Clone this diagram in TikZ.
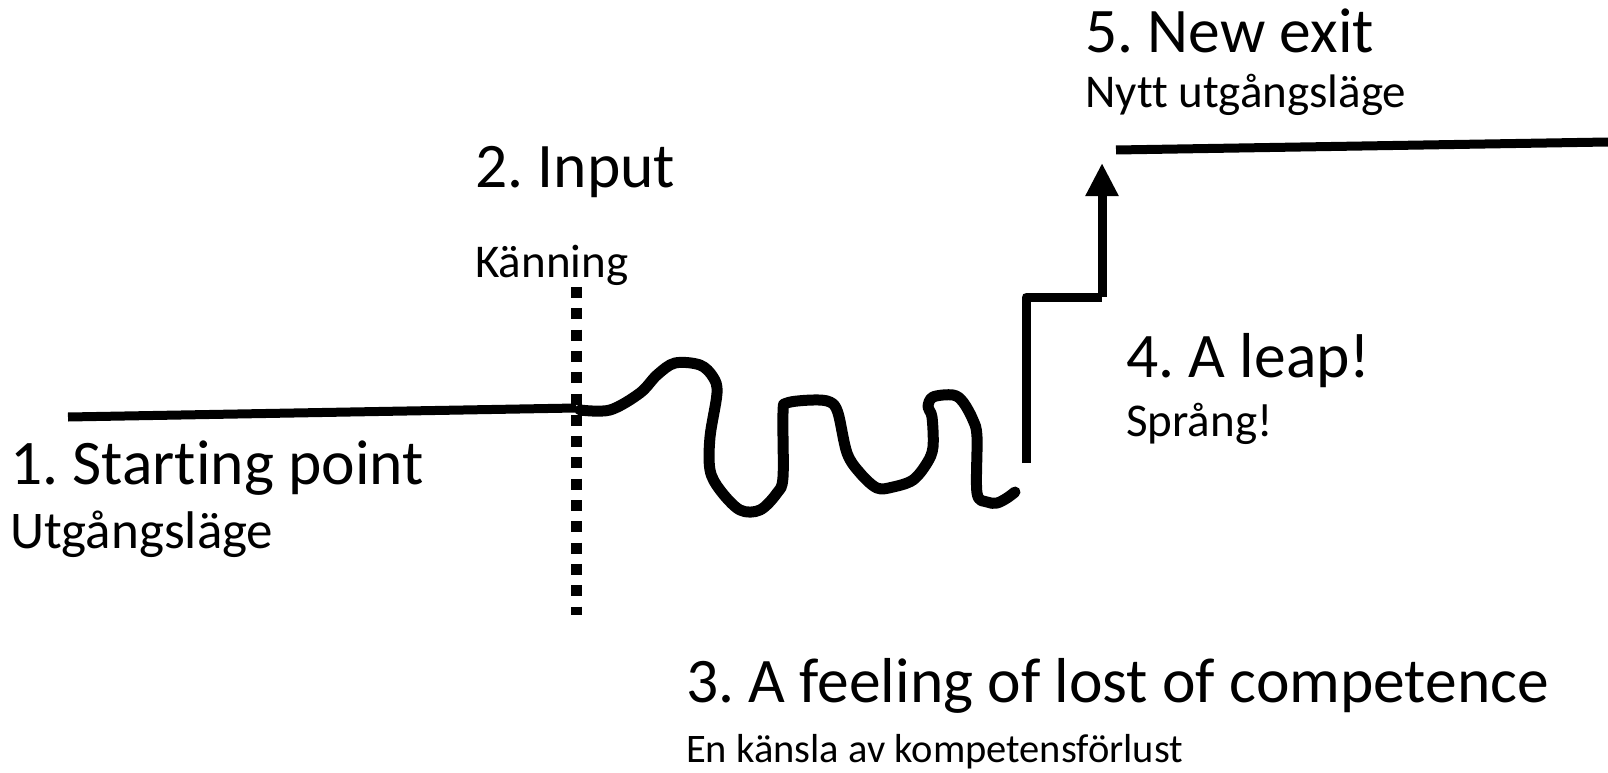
\documentclass[tikz,border=0pt]{standalone}
\usepackage{fontspec}
\setmainfont{Carlito}[Ligatures=NoCommon]
\frenchspacing
\usetikzlibrary{arrows.meta}
\tikzset{
  big/.style={anchor=base west, inner sep=0pt, font=\fontsize{63.5}{70}\selectfont},
  small/.style={anchor=base west, inner sep=0pt, font=\fontsize{47}{54}\selectfont},
  thick line/.style={line width=9pt, line join=round},
  wiggle/.style={line width=11pt, line join=round, line cap=round},
  dotline/.style={line width=11pt, dash pattern=on 11pt off 10.3pt},
  leap/.style={line width=9pt, -{Triangle[length=33pt,width=31pt]}},
}
\begin{document}
\begin{tikzpicture}[x=1pt,y=-1pt]
\useasboundingbox (0,0) rectangle (1608,773);
% texts
\node[big] (t5) at (1085,53) {5. New exit};
\node[small] (t5s) at (1085,108) {Nytt utgångsläge};
\node[big] (t2) at (475,187) {2. Input};
\node[small] (t2s) at (475,277) {Känning};
\node[big] (t1) at (10,484) {1. Starting point};
\node[small, font=\fontsize{53}{60}\selectfont] (t1s) at (10,548) {Utgångsläge};
\node[big] (t4) at (1126,377) {4. A leap!};
\node[small] (t4s) at (1126,436) {Språng!};
\node[big] (t3) at (686,702) {3. A feeling of lost of competence};
\node[small, font=\fontsize{40.5}{47}\selectfont] (t3s) at (686,762) {En känsla av kompetensförlust};
% coordinates
\coordinate (s0) at (68,417);
\coordinate (s1) at (576,408);
\coordinate (d0) at (576,287);
\coordinate (d1) at (576,615);
\coordinate (v0) at (1026,463);
\coordinate (v1) at (1026,297);
\coordinate (v2) at (1102,297);
\coordinate (v3) at (1102,163);
\coordinate (e0) at (1116,150);
\coordinate (e1) at (1608,142);
% lines
\draw[thick line] (s0) -- (s1);
\draw[dotline] (d0) -- (d1);
\draw[wiggle] plot[smooth, tension=0.55] coordinates {
 (580,410) (610,410) (640,393) (657,375) (675,363) (700,365) (713,377)
 (717,393) (710,437) (710,470) (720,490) (740,510) (760,510) (777,493)
 (783,477) (783,413) (787,403) (813,400) (830,402) (838,413) (847,453)
 (860,473) (877,488) (893,487) (913,480) (927,463) (933,447) (932,417)
 (928,407) (933,397) (953,395) (963,402) (973,420) (977,437) (977,493)
 (987,502) (997,503) (1007,498) (1015,492)};
\draw[thick line] (v0) -- (v1) -- (v2);
\draw[leap] (v2) -- (v3);
\draw[thick line] (e0) -- (e1);
\end{tikzpicture}
\end{document}
